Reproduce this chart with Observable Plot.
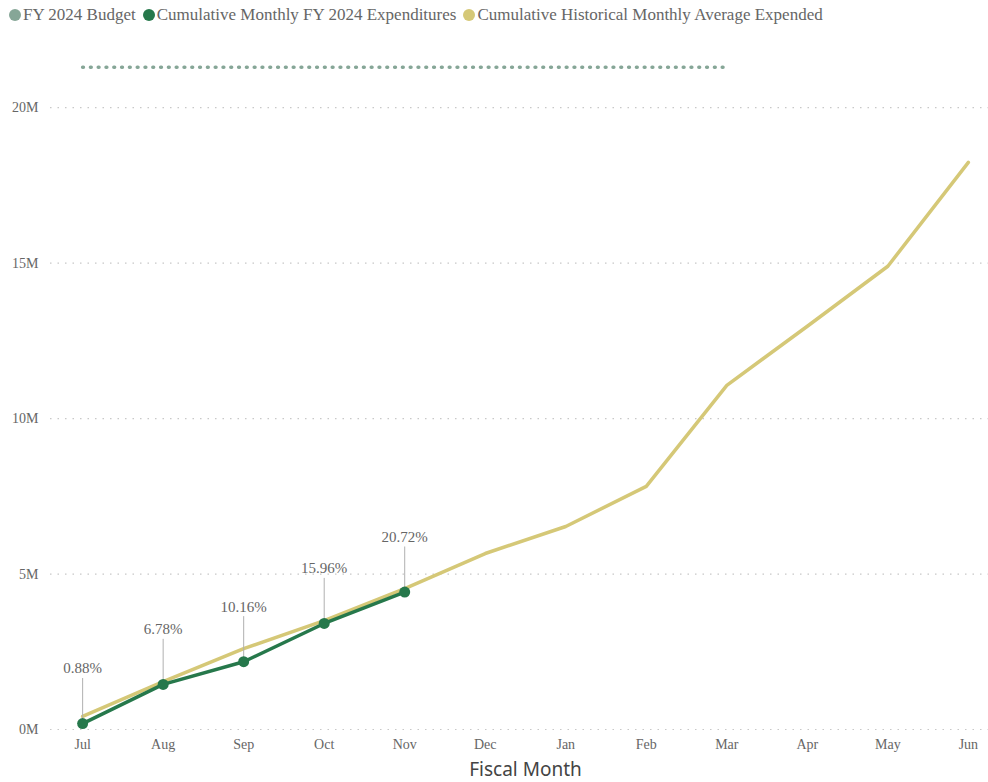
<!DOCTYPE html>
<html>
<head>
<meta charset="utf-8">
<script src="https://cdn.jsdelivr.net/npm/d3@7"></script>
<script src="https://cdn.jsdelivr.net/npm/@observablehq/plot@0.6"></script>
<style>
  body { margin: 0; background: #fff; }
  #legend { height: 30px; display: flex; align-items: center; font-family: "Liberation Serif", serif; font-size: 17px; color: #666; padding-left: 9px; white-space: nowrap; }
  #legend .item { display: flex; align-items: center; margin-right: 7px; }
  #legend .dot { width: 12px; height: 12px; border-radius: 50%; margin-right: 2px; display: inline-block; }
</style>
</head>
<body>
<div id="legend"></div>
<div id="chart"></div>
<script>
const months = ["Jul","Aug","Sep","Oct","Nov","Dec","Jan","Feb","Mar","Apr","May","Jun"];
// Cumulative historical monthly average expended (millions)
const historical = [0.42, 1.54, 2.60, 3.50, 4.53, 5.66, 6.53, 7.82, 11.07, 12.97, 14.90, 18.24];
// Cumulative monthly FY 2024 expenditures (millions)
const expMonths = ["Jul","Aug","Sep","Oct","Nov"];
const expenditures = [0.19, 1.45, 2.18, 3.41, 4.42];
const expLabels = ["0.88%","6.78%","10.16%","15.96%","20.72%"];
// FY 2024 budget (millions)
const budgetMonths = ["Jul","Aug","Sep","Oct","Nov","Dec","Jan","Feb","Mar"];
const budget = 21.3;
const yTicks = [0, 5, 10, 15, 20];

const seriesNames = ["FY 2024 Budget", "Cumulative Monthly FY 2024 Expenditures", "Cumulative Historical Monthly Average Expended"];
const seriesColors = ["#86A697", "#26784B", "#D5C877"];

const legend = document.getElementById("legend");
seriesNames.forEach((n, i) => {
  const it = document.createElement("span");
  it.className = "item";
  it.innerHTML = `<span class="dot" style="background:${seriesColors[i]}"></span>${n}`;
  legend.appendChild(it);
});

const hist = months.map((m, i) => ({month: m, value: historical[i]}));
const exp = expMonths.map((m, i) => ({month: m, value: expenditures[i], label: expLabels[i]}));
const bud = budgetMonths.map(m => ({month: m, value: budget}));

const chart = Plot.plot({
  width: 988,
  height: 752,
  marginLeft: 50,
  marginRight: 0,
  marginTop: 15,
  marginBottom: 53,
  style: {fontFamily: "Liberation Serif, serif", fontSize: "14px", color: "#666", background: "#fff"},
  x: {type: "point", domain: months, padding: 0.25, round: false, insetLeft: 12, label: null, tickSize: 0, tickPadding: 10},
  y: {domain: [0, 22], ticks: yTicks, tickFormat: d => d + "M", label: null, tickSize: 0, tickPadding: 12},
  marks: [
    Plot.ruleY(yTicks, {stroke: "#c8c8c8", strokeDasharray: "1.5,6", strokeWidth: 1.2}),
    Plot.line(bud, {x: "month", y: "value", stroke: seriesColors[0], strokeWidth: 3.5, strokeLinecap: "round", strokeDasharray: "0.8,7"}),
    Plot.line(hist, {x: "month", y: "value", stroke: seriesColors[2], strokeWidth: 3.5}),
    Plot.ruleX(exp, {x: "month", y1: "value", y2: d => d.value + 1.45, stroke: "#b0b0b0", strokeWidth: 1}),
    Plot.line(exp, {x: "month", y: "value", stroke: seriesColors[1], strokeWidth: 3.5}),
    Plot.dot(exp, {x: "month", y: "value", r: 5.5, fill: seriesColors[1], stroke: "none"}),
    Plot.text(exp, {x: "month", y: "value", text: "label", dy: -55, fill: "#666", fontSize: 15}),
    Plot.text(["Fiscal Month"], {text: d => d, frameAnchor: "bottom", dy: 46, dx: 6, fontFamily: "Noto Sans, sans-serif", fontSize: 19, fill: "#444"})
  ]
});
document.getElementById("chart").appendChild(chart);
</script>
</body>
</html>
